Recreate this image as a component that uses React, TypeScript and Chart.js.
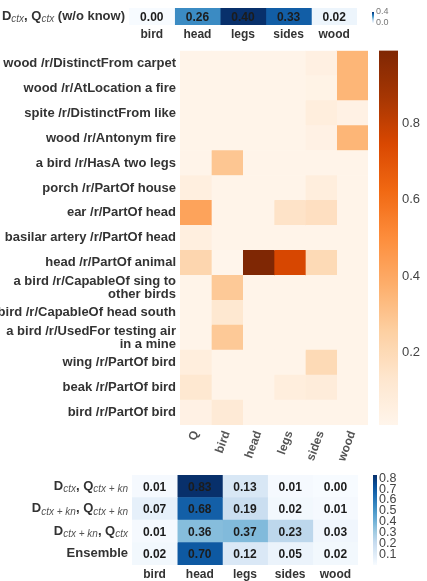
import { useEffect, useRef } from "react";
import { Chart, registerables } from "chart.js";

Chart.register(...registerables);

const FONT = '"Liberation Sans", Arial, Helvetica, sans-serif';
Chart.defaults.font.family = FONT;

// ---- data -------------------------------------------------------------

// answer choices
const choices = ["bird", "head", "legs", "sides", "wood"];

// answer probabilities without knowledge
const noKnowledgeProbs = [0.0, 0.26, 0.4, 0.33, 0.02];
const noKnowledgeLabel: [string, boolean][] = [
  ["D", false], ["ctx", true], [", Q", false], ["ctx", true], [" (w/o know)", false],
];

// retrieved knowledge triples (rows of the attention map)
const triples: (string | string[])[] = [
  "wood /r/DistinctFrom carpet",
  "wood /r/AtLocation a fire",
  "spite /r/DistinctFrom like",
  "wood /r/Antonym fire",
  "a bird /r/HasA two legs",
  "porch /r/PartOf house",
  "ear /r/PartOf head",
  "basilar artery /r/PartOf head",
  "head /r/PartOf animal",
  ["a bird /r/CapableOf sing to", "other birds"],
  "bird /r/CapableOf head south",
  ["a bird /r/UsedFor testing air", "in a mine"],
  "wing /r/PartOf bird",
  "beak /r/PartOf bird",
  "bird /r/PartOf bird",
];
const attnColumns = ["Q", "bird", "head", "legs", "sides", "wood"];

// attention weight of each column over the triples
const attnQ =     [0.02, 0.02, 0.02, 0.02, 0.02, 0.06, 0.42, 0.06, 0.22, 0.02, 0.02, 0.02, 0.07, 0.12, 0.04];
const attnBird =  [0.02, 0.02, 0.02, 0.02, 0.29, 0.02, 0.02, 0.02, 0.01, 0.28, 0.12, 0.28, 0.02, 0.02, 0.10];
const attnHead =  [0.02, 0.02, 0.02, 0.02, 0.02, 0.02, 0.02, 0.02, 0.99, 0.02, 0.02, 0.02, 0.02, 0.02, 0.02];
const attnLegs =  [0.02, 0.02, 0.02, 0.02, 0.02, 0.02, 0.15, 0.02, 0.75, 0.02, 0.02, 0.02, 0.02, 0.07, 0.02];
const attnSides = [0.05, 0.03, 0.07, 0.04, 0.02, 0.07, 0.17, 0.02, 0.20, 0.02, 0.02, 0.02, 0.20, 0.08, 0.02];
const attnWood =  [0.35, 0.35, 0.04, 0.35, 0.02, 0.02, 0.02, 0.02, 0.02, 0.02, 0.02, 0.02, 0.02, 0.02, 0.02];
const attnTicks = [0.2, 0.4, 0.6, 0.8];

// answer probabilities with knowledge, per model variant
const variantLabels: [string, boolean][][] = [
  [["D", false], ["ctx", true], [", Q", false], ["ctx + kn", true]],
  [["D", false], ["ctx + kn", true], [", Q", false], ["ctx + kn", true]],
  [["D", false], ["ctx + kn", true], [", Q", false], ["ctx", true]],
  [["Ensemble", false]],
];
const probsCtxQKn = [0.01, 0.83, 0.13, 0.01, 0.0];
const probsKnBoth = [0.07, 0.68, 0.19, 0.02, 0.01];
const probsKnDoc = [0.01, 0.36, 0.37, 0.23, 0.03];
const probsEnsemble = [0.02, 0.7, 0.12, 0.05, 0.02];
const variantTicks = [0.1, 0.2, 0.3, 0.4, 0.5, 0.6, 0.7, 0.8];

// ---- colour maps ------------------------------------------------------

const ORANGES = ["#fff5eb", "#fee6ce", "#fdd0a2", "#fdae6b", "#fd8d3c", "#f16913", "#d94801", "#a63603", "#7f2704"];
const BLUES = ["#f7fbff", "#deebf7", "#c6dbef", "#9ecae1", "#6baed6", "#4292c6", "#2171b5", "#08519c", "#08306b"];

function hexToRgb(h: string) {
  const n = parseInt(h.slice(1), 16);
  return [(n >> 16) & 255, (n >> 8) & 255, n & 255];
}

function sampleMap(stops: string[], t: number) {
  const tt = Math.max(0, Math.min(1, t));
  const x = tt * (stops.length - 1);
  const i = Math.min(stops.length - 2, Math.floor(x));
  const f = x - i;
  const a = hexToRgb(stops[i]);
  const b = hexToRgb(stops[i + 1]);
  const c = a.map((v, k) => Math.round(v + (b[k] - v) * f));
  return `rgb(${c[0]},${c[1]},${c[2]})`;
}

// ---- builders ---------------------------------------------------------

type Segs = [string, boolean][];

interface HeatOpts {
  rows: (string | string[])[];
  cols: string[];
  matrix: number[][];
  stops: string[];
  vmin: number;
  vmax: number;
  yWidth: number;
  xHeight: number;
  padding: { top: number; right: number; bottom: number; left: number };
  rotation?: number;
  xPad: number;
  xColor: string;
  annotate?: boolean;
  richRows?: Segs[];
}

function buildHeatmap(canvas: HTMLCanvasElement, o: HeatOpts) {
  const ncol = o.cols.length;
  const datasets = o.cols.map((_, c) => ({
    data: o.matrix.map(() => [c, c + 1]),
    backgroundColor: o.matrix.map((row) => sampleMap(o.stops, (row[c] - o.vmin) / (o.vmax - o.vmin))),
    borderWidth: 0,
    barPercentage: 1,
    categoryPercentage: 1,
    grouped: false,
  }));

  const overlay = {
    id: "heatText",
    afterDatasetsDraw(chart: any) {
      const ctx = chart.ctx as CanvasRenderingContext2D;
      ctx.save();
      if (o.annotate) {
        ctx.font = `bold 12px ${FONT}`;
        ctx.fillStyle = "#1c1c1c";
        ctx.textAlign = "center";
        ctx.textBaseline = "middle";
        chart.data.datasets.forEach((_: any, c: number) => {
          const meta = chart.getDatasetMeta(c);
          meta.data.forEach((el: any, r: number) => {
            ctx.fillText(o.matrix[r][c].toFixed(2), (el.x + el.base) / 2, el.y + 1);
          });
        });
      }
      if (o.richRows) {
        const ys = chart.scales.y;
        const right = chart.chartArea.left - 4;
        const mainFont = `bold 13px ${FONT}`;
        const subFont = `italic 10px ${FONT}`;
        ctx.textAlign = "left";
        ctx.textBaseline = "middle";
        o.richRows.forEach((segs, i) => {
          const py = ys.getPixelForTick(i);
          let w = 0;
          segs.forEach(([t, sub]) => {
            ctx.font = sub ? subFont : mainFont;
            w += ctx.measureText(t).width;
          });
          let x = right - w;
          segs.forEach(([t, sub]) => {
            ctx.font = sub ? subFont : mainFont;
            ctx.fillStyle = sub ? "#555" : "#333";
            ctx.fillText(t, x, py + (sub ? 3 : 0));
            x += ctx.measureText(t).width;
          });
        });
      }
      ctx.restore();
    },
  };

  return new Chart(canvas, {
    type: "bar",
    data: { labels: o.rows as any, datasets: datasets as any },
    options: {
      indexAxis: "y",
      responsive: false,
      animation: false,
      events: [],
      layout: { padding: o.padding },
      plugins: { legend: { display: false }, tooltip: { enabled: false } },
      scales: {
        x: {
          type: "linear",
          position: "bottom",
          min: 0,
          max: ncol,
          grid: { display: false, drawTicks: false },
          border: { display: false },
          afterBuildTicks: (s: any) => {
            s.ticks = o.cols.map((_, i) => ({ value: i + 0.5 }));
          },
          afterFit: (s: any) => {
            s.height = o.xHeight;
          },
          ticks: {
            autoSkip: false,
            minRotation: o.rotation ?? 0,
            maxRotation: o.rotation ?? 0,
            padding: o.xPad,
            color: o.xColor,
            font: { size: 12, weight: "bold" },
            callback: (v: any) => o.cols[Math.floor(Number(v))] ?? "",
          },
        },
        y: {
          type: "category",
          position: "left",
          grid: { display: false, drawTicks: false },
          border: { display: false },
          afterFit: (s: any) => {
            s.width = o.yWidth;
          },
          ticks: {
            display: !o.richRows,
            autoSkip: false,
            padding: 4,
            color: "#333",
            font: { size: 13, weight: "bold", lineHeight: 1.03 },
          },
        },
      },
    } as any,
    plugins: [overlay],
  });
}

interface BarOpts {
  stops: string[];
  vmin: number;
  vmax: number;
  ticks: number[];
  padding: { top: number; right: number; bottom: number; left: number };
  axisWidth: number;
  fontSize: number;
  color: string;
  tickPad: number;
}

function buildColorbar(canvas: HTMLCanvasElement, o: BarOpts) {
  return new Chart(canvas, {
    type: "bar",
    data: {
      labels: [""],
      datasets: [
        {
          data: [[o.vmin, o.vmax]],
          borderWidth: 0,
          barPercentage: 1,
          categoryPercentage: 1,
          backgroundColor: (ctx: any) => {
            const a = ctx.chart.chartArea;
            if (!a) return o.stops[0];
            const g = ctx.chart.ctx.createLinearGradient(0, a.bottom, 0, a.top);
            for (let k = 0; k <= 40; k++) g.addColorStop(k / 40, sampleMap(o.stops, k / 40));
            return g;
          },
        },
      ],
    } as any,
    options: {
      responsive: false,
      animation: false,
      events: [],
      layout: { padding: o.padding },
      plugins: { legend: { display: false }, tooltip: { enabled: false } },
      scales: {
        x: { display: false },
        y: {
          type: "linear",
          position: "right",
          min: o.vmin,
          max: o.vmax,
          grid: { display: false, drawTicks: false },
          border: { display: false },
          afterBuildTicks: (s: any) => {
            s.ticks = o.ticks.map((v) => ({ value: v }));
          },
          afterFit: (s: any) => {
            s.width = o.axisWidth;
          },
          ticks: {
            autoSkip: false,
            padding: o.tickPad,
            color: o.color,
            font: { size: o.fontSize, lineHeight: 1 },
            callback: (v: any) => Number(v).toFixed(1),
          },
        },
      },
    } as any,
  });
}

// ---- component --------------------------------------------------------

export default function App() {
  const stripRef = useRef<HTMLCanvasElement>(null);
  const stripBarRef = useRef<HTMLCanvasElement>(null);
  const attnRef = useRef<HTMLCanvasElement>(null);
  const attnBarRef = useRef<HTMLCanvasElement>(null);
  const variantRef = useRef<HTMLCanvasElement>(null);
  const variantBarRef = useRef<HTMLCanvasElement>(null);

  useEffect(() => {
    const attnMatrix = triples.map((_, r) => [attnQ[r], attnBird[r], attnHead[r], attnLegs[r], attnSides[r], attnWood[r]]);
    const flat = attnMatrix.flat();
    const aMin = Math.min(...flat);
    const aMax = Math.max(...flat);

    const variantMatrix = [probsCtxQKn, probsKnBoth, probsKnDoc, probsEnsemble];
    const vMax = Math.max(...variantMatrix.flat());
    const sMax = Math.max(...noKnowledgeProbs);

    const charts: Chart[] = [];

    charts.push(
      buildHeatmap(stripRef.current!, {
        rows: ["Dctx, Qctx (w/o know)"],
        cols: choices,
        matrix: [noKnowledgeProbs],
        stops: BLUES,
        vmin: 0,
        vmax: sMax,
        yWidth: 129,
        xHeight: 17,
        padding: { top: 8, right: 5, bottom: 0, left: 0 },
        xPad: 2,
        xColor: "#333",
        annotate: true,
        richRows: [noKnowledgeLabel],
      })
    );
    charts.push(
      buildColorbar(stripBarRef.current!, {
        stops: BLUES,
        vmin: 0,
        vmax: sMax,
        ticks: [0, 0.4],
        padding: { top: 12, right: 0, bottom: 9, left: 6 },
        axisWidth: 22,
        fontSize: 9,
        color: "#777",
        tickPad: 2,
      })
    );
    charts.push(
      buildHeatmap(attnRef.current!, {
        rows: triples,
        cols: attnColumns,
        matrix: attnMatrix,
        stops: ORANGES,
        vmin: aMin,
        vmax: aMax,
        yWidth: 180,
        xHeight: 47,
        padding: { top: 9, right: 4, bottom: 0, left: 0 },
        rotation: 70,
        xPad: 4,
        xColor: "#555",
      })
    );
    charts.push(
      buildColorbar(attnBarRef.current!, {
        stops: ORANGES,
        vmin: aMin,
        vmax: aMax,
        ticks: attnTicks,
        padding: { top: 9, right: 0, bottom: 15, left: 7 },
        axisWidth: 29,
        fontSize: 13,
        color: "#444",
        tickPad: 4,
      })
    );
    charts.push(
      buildHeatmap(variantRef.current!, {
        rows: ["Dctx, Qctx+kn", "Dctx+kn, Qctx+kn", "Dctx+kn, Qctx", "Ensemble"],
        cols: choices,
        matrix: variantMatrix,
        stops: BLUES,
        vmin: 0,
        vmax: vMax,
        yWidth: 132,
        xHeight: 16,
        padding: { top: 9, right: 4, bottom: 0, left: 0 },
        xPad: 2,
        xColor: "#333",
        annotate: true,
        richRows: variantLabels,
      })
    );
    charts.push(
      buildColorbar(variantBarRef.current!, {
        stops: BLUES,
        vmin: 0,
        vmax: vMax,
        ticks: variantTicks,
        padding: { top: 9, right: 0, bottom: 16, left: 5 },
        axisWidth: 50,
        fontSize: 12.5,
        color: "#444",
        tickPad: 2,
      })
    );

    return () => charts.forEach((c) => c.destroy());
  }, []);

  const abs = (left: number, top: number) => ({ position: "absolute" as const, left, top });

  return (
    <div style={{ position: "absolute", left: 0, top: 0, width: 427, height: 581, background: "#fff", overflow: "hidden" }}>
      <canvas ref={stripRef} width={362} height={42} style={abs(0, 0)} />
      <canvas ref={stripBarRef} width={30} height={32} style={abs(366, 0)} />
      <canvas ref={attnRef} width={372} height={432} style={abs(0, 40)} />
      <canvas ref={attnBarRef} width={55} height={400} style={abs(372, 40)} />
      <canvas ref={variantRef} width={362} height={115} style={abs(0, 466)} />
      <canvas ref={variantBarRef} width={59} height={115} style={abs(368, 466)} />
    </div>
  );
}
